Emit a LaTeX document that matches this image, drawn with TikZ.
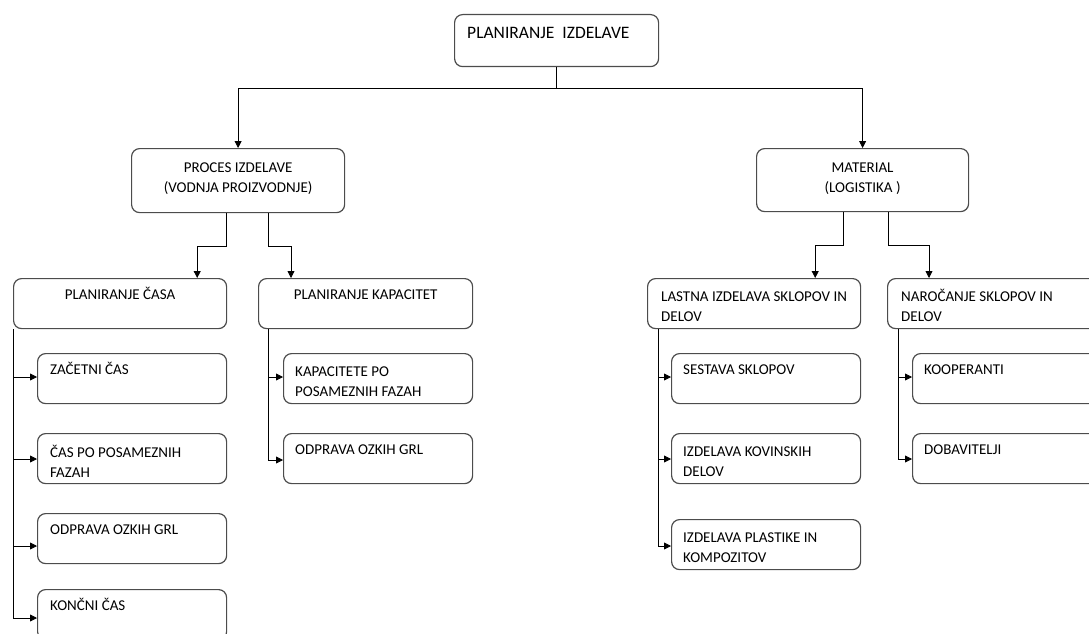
\documentclass[tikz,border=0pt]{standalone}
\usepackage{fontspec}
\setmainfont{Carlito}
\usetikzlibrary{arrows.meta}
\newcommand{\boxfont}{\fontsize{15pt}{20pt}\selectfont}
\newcommand{\rootfont}{\fontsize{17.5pt}{20pt}\selectfont}
\tikzset{
  box/.style={draw=black!70, line width=1.2pt, rounded corners=8pt, inner sep=0pt,
    anchor=north west, minimum height=50pt},
  lbl/.style={font=\boxfont, inner sep=0pt, align=left, anchor=base west},
  clbl/.style={font=\boxfont, inner sep=0pt, align=center, anchor=base},
  conn/.style={line width=0.8pt, -{Triangle[length=7pt,width=7pt]}},
  trunk/.style={line width=0.8pt}
}
\begin{document}
\begin{tikzpicture}[x=1pt, y=-1pt]
\useasboundingbox (0,0) rectangle (1089,634);
\clip (0,0) rectangle (1089,634);

% level 1
\node[box, minimum width=204pt, minimum height=52pt] (root) at (454,14) {};
\node[lbl, font=\rootfont] (roottxt) at ([shift={(13,25)}]root.north west) {PLANIRANJE\ \ IZDELAVE};

% level 2 (base of a two-line label = its last line)
\node[box, minimum width=213pt, minimum height=64pt] (proces) at (131,148) {};
\node[clbl] (procestxt) at ([shift={(0,44)}]proces.north) {PROCES IZDELAVE\\(VODNJA PROIZVODNJE)};
\node[box, minimum width=212pt, minimum height=63pt] (material) at (756,148) {};
\node[clbl] (materialtxt) at ([shift={(0,44)}]material.north) {MATERIAL\\(LOGISTIKA )};

\draw[conn] (root.south) -- ++(0,21) -| (proces.north);
\draw[conn] (root.south) -- ++(0,21) -| (material.north);

% level 3
\node[box, minimum width=213pt] (cas) at (13,278) {};
\node[clbl] (castxt) at ([shift={(0,21)}]cas.north) {PLANIRANJE ČASA};
\node[box, minimum width=214pt] (kap) at (258,278) {};
\node[clbl] (kaptxt) at ([shift={(0,21)}]kap.north) {PLANIRANJE KAPACITET};
\node[box, minimum width=213pt] (lastna) at (647,278) {};
\node[lbl] (lastnatxt) at ([shift={(14,43)}]lastna.north west) {LASTNA IZDELAVA SKLOPOV IN\\DELOV};
\node[box, minimum width=240pt] (narocanje) at (887,278) {};
\node[lbl] (narocanjetxt) at ([shift={(14,43)}]narocanje.north west) {NAROČANJE SKLOPOV IN\\DELOV};

\draw[conn] ([xshift=-12pt]proces.south) -- ++(0,33) -| ([xshift=-30pt]cas.north east);
\draw[conn] ([xshift=30pt]proces.south) -- ++(0,33) -| ([xshift=33pt]kap.north west);
\draw[conn] ([xshift=-19pt]material.south) -- ++(0,33) -| ([xshift=-46pt]lastna.north east);
\draw[conn] ([xshift=26pt]material.south) -- ++(0,33) -| ([xshift=42pt]narocanje.north west);

% PLANIRANJE CASA: children
\coordinate (castrunk) at (cas.south west);
\foreach \n/\y/\a/\b/\t in {c1/353/24/21/{ZAČETNI ČAS}, c2/433/26/44/{ČAS PO POSAMEZNIH\\FAZAH},
    c3/513/33/21/{ODPRAVA OZKIH GRL}, c4/589/29/21/{KONČNI ČAS}}{
  \node[box, minimum width=189pt] (\n) at (37,\y) {};
  \node[lbl] (\n-txt) at ([shift={(13,\b)}]\n.north west) {\t};
  \coordinate (\n-in) at ([shift={(0,\a)}]\n.north west);
  \draw[conn] (\n-in -| castrunk) -- (\n-in);
}
\draw[trunk] (castrunk) -- (c4-in -| castrunk);

% PLANIRANJE KAPACITET: children
\coordinate (kaptrunk) at ([xshift=10pt]kap.south west);
\foreach \n/\y/\a/\b/\t in {k1/353/24/43/{KAPACITETE PO\\POSAMEZNIH FAZAH}, k2/433/27/21/{ODPRAVA OZKIH GRL}}{
  \node[box, minimum width=189pt] (\n) at (283,\y) {};
  \node[lbl] (\n-txt) at ([shift={(12,\b)}]\n.north west) {\t};
  \coordinate (\n-in) at ([shift={(0,\a)}]\n.north west);
  \draw[conn] (\n-in -| kaptrunk) -- (\n-in);
}
\draw[trunk] (kaptrunk) -- (k2-in -| kaptrunk);

% LASTNA IZDELAVA: children
\coordinate (lastnatrunk) at ([xshift=11pt]lastna.south west);
\foreach \n/\y/\a/\b/\t in {l1/353/24/21/{SESTAVA SKLOPOV}, l2/433/26/43/{IZDELAVA KOVINSKIH\\DELOV},
    l3/519/27/43/{IZDELAVA PLASTIKE IN\\KOMPOZITOV}}{
  \node[box, minimum width=189pt] (\n) at (671,\y) {};
  \node[lbl] (\n-txt) at ([shift={(12,\b)}]\n.north west) {\t};
  \coordinate (\n-in) at ([shift={(0,\a)}]\n.north west);
  \draw[conn] (\n-in -| lastnatrunk) -- (\n-in);
}
\draw[trunk] (lastnatrunk) -- (l3-in -| lastnatrunk);

% NAROCANJE: children
\coordinate (narocanjetrunk) at ([xshift=11pt]narocanje.south west);
\foreach \n/\y/\a/\b/\t in {n1/353/24/21/{KOOPERANTI}, n2/433/26/21/{DOBAVITELJI}}{
  \node[box, minimum width=200pt] (\n) at (912,\y) {};
  \node[lbl] (\n-txt) at ([shift={(12,\b)}]\n.north west) {\t};
  \coordinate (\n-in) at ([shift={(0,\a)}]\n.north west);
  \draw[conn] (\n-in -| narocanjetrunk) -- (\n-in);
}
\draw[trunk] (narocanjetrunk) -- (n2-in -| narocanjetrunk);
\end{tikzpicture}
\end{document}
